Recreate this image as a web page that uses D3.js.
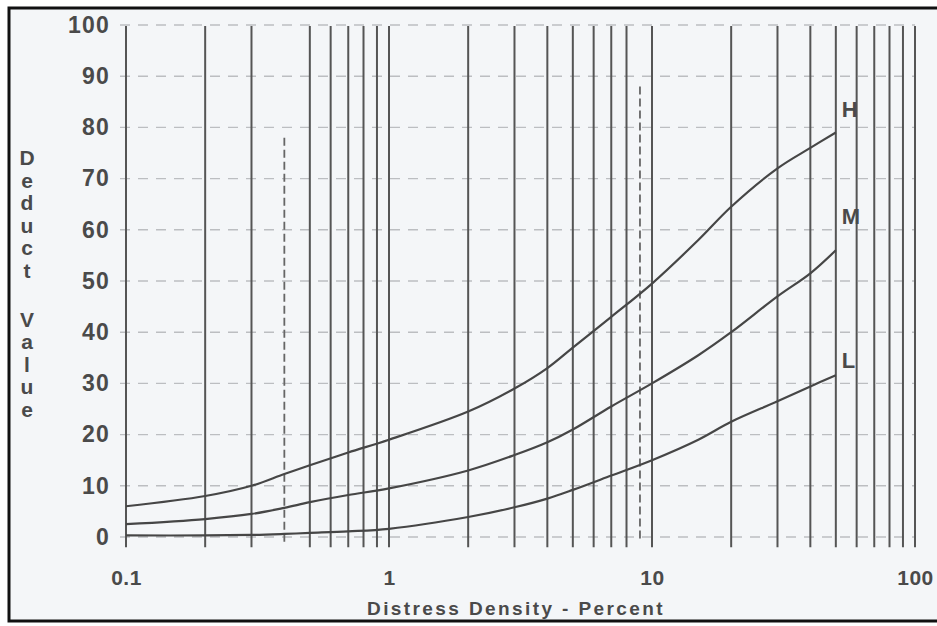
<!DOCTYPE html>
<html><head><meta charset="utf-8">
<script src="https://cdn.jsdelivr.net/npm/d3@7"></script>
<style>
body{margin:0;background:#fff;}
text{font-family:"Liberation Sans",Arial,Helvetica,sans-serif;font-weight:bold;fill:#4a4a4a;}
</style>
</head><body><svg id="c" width="937" height="626"></svg>
<script>
// ---- data ----
const density = [0.1,0.2,0.3,0.4,0.5,0.7,1,2,3,4,5,7,10,15,20,30,40,50];
const deductH = [6,8,10,12.3,14,16.5,19,24.5,29,33,37,43,49.5,58,64.5,72,76,79];
const deductM = [2.5,3.5,4.5,5.7,6.8,8.2,9.5,13,16,18.5,21,25.5,30,35.5,40,47,51.5,56];
const deductL = [0.3,0.3,0.4,0.6,0.8,1.1,1.6,3.9,5.8,7.5,9.2,12,15,19,22.5,26.5,29.4,31.6];
const curveNames = ["H","M","L"];
const xTickLabels = [0.1,1,10,100];
const yTicks = [0,10,20,30,40,50,60,70,80,90,100];
const xGridSolid = [0.1,0.2,0.3,0.5,0.6,0.7,0.8,0.9,1,2,3,4,5,6,7,8,10,20,30,40,50,60,70,80,90,100];
const xGridDashed = [0.4,9];
const xTitle = "Distress Density - Percent";
const yTitle = "Deduct Value";

const svg = d3.select("#c");
const x = d3.scaleLog().domain([0.1,100]).range([126,915]);
const y = d3.scaleLinear().domain([0,100]).range([537,25]);

// frame
svg.append("rect").attr("x",0).attr("y",0).attr("width",937).attr("height",626).attr("fill","#ffffff");
svg.append("rect").attr("x",9).attr("y",8).attr("width",940).attr("height",613)
  .attr("fill","#f4f6f8").attr("stroke","#111").attr("stroke-width",3);

// horizontal dashed grid
svg.append("g").selectAll("line").data(yTicks).join("line")
  .attr("x1",x(0.1)-6).attr("x2",x(100))
  .attr("y1",d=>y(d)).attr("y2",d=>y(d))
  .attr("stroke","#bcbec1").attr("stroke-width",1.4).attr("stroke-dasharray","10,8");

// vertical grid
svg.append("g").selectAll("line").data(xGridSolid).join("line")
  .attr("x1",d=>x(d)).attr("x2",d=>x(d))
  .attr("y1",y(100)+1).attr("y2",y(-2))
  .attr("stroke","#555").attr("stroke-width",2);
svg.append("g").selectAll("line").data(xGridDashed).join("line")
  .attr("x1",d=>x(d)).attr("x2",d=>x(d))
  .attr("y1",d=>d<1?y(78):y(88)).attr("y2",y(-1))
  .attr("stroke","#666").attr("stroke-width",1.8).attr("stroke-dasharray","8,4");

// axes (text only)
const ya = svg.append("g").attr("transform",`translate(${x(0.1)},0)`)
  .call(d3.axisLeft(y).tickValues(yTicks).tickSize(0).tickPadding(16));
ya.select(".domain").remove();
ya.selectAll("text").attr("font-size",23).attr("letter-spacing",1.2)
  .style("font-family","'Liberation Sans',Arial,sans-serif").style("font-weight","bold").attr("fill","#4a4a4a");

const xa = svg.append("g").attr("transform",`translate(0,${y(0)})`)
  .call(d3.axisBottom(x).tickValues(xTickLabels).tickFormat(d3.format("")).tickSize(0).tickPadding(33));
xa.select(".domain").remove();
xa.selectAll("text").attr("font-size",21).attr("letter-spacing",0.5)
  .style("font-family","'Liberation Sans',Arial,sans-serif").style("font-weight","bold").attr("fill","#4a4a4a");

// curves
const series = [deductH, deductM, deductL];
const line = d3.line().x((d,i)=>x(density[i])).y(d=>y(d)).curve(d3.curveCatmullRom.alpha(0.5));
svg.append("g").selectAll("path").data(series).join("path")
  .attr("d",d=>line(d)).attr("fill","none").attr("stroke","#464646").attr("stroke-width",2.2);

// curve labels
const lastX = density[density.length-1];
svg.append("g").selectAll("text").data(series).join("text")
  .attr("x",x(lastX)+6)
  .attr("y",(d,i)=>y(d[d.length-1]) - [16,26,7][i])
  .attr("font-size",22).text((d,i)=>curveNames[i]);

// titles
svg.append("text").attr("x",516).attr("y",615).attr("text-anchor","middle")
  .attr("font-size",19).attr("letter-spacing",2.4).text(xTitle);

const yt = svg.append("text").attr("text-anchor","middle").attr("font-size",21);
const letters = yTitle.split("");
let ypos = 165;
letters.forEach((ch,i)=>{
  if(ch===" "){ ypos += 26; return; }
  yt.append("tspan").attr("x",27).attr("y",ypos).text(ch);
  ypos += 22.6;
});
</script>
</body></html>
